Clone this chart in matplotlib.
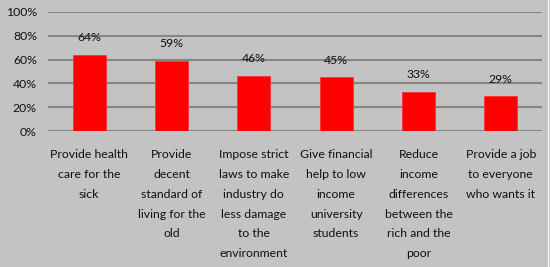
import matplotlib
matplotlib.use("Agg")
import matplotlib.pyplot as plt
from matplotlib.lines import Line2D

categories = [
    "Provide health\ncare for the\nsick",
    "Provide\ndecent\nstandard of\nliving for the\nold",
    "Impose strict\nlaws to make\nindustry do\nless damage\nto the\nenvironment",
    "Give financial\nhelp to low\nincome\nuniversity\nstudents",
    "Reduce\nincome\ndifferences\nbetween the\nrich and the\npoor",
    "Provide a job\nto everyone\nwho wants it",
]
values = [64, 59, 46, 45, 33, 29]
value_labels = ["64%", "59%", "46%", "45%", "33%", "29%"]
yticks = [0, 20, 40, 60, 80, 100]
ytick_labels = ["0%", "20%", "40%", "60%", "80%", "100%"]

plt.rcParams['font.family'] = ['Lato', 'DejaVu Sans']

bg = "#c3c3c3"
fig = plt.figure(figsize=(5.5, 2.67), dpi=100, facecolor=bg)
ax = fig.add_axes([48/550, 1-131/267, (542-48)/550, (131-12)/267])
ax.set_facecolor(bg)

x = list(range(len(categories)))
ax.bar(x, values, width=0.4, color="#ff0000", edgecolor="#ff3030", linewidth=0.6, zorder=3)
for xi, v, lab in zip(x, values, value_labels):
    ax.annotate(lab, (xi, v), xytext=(0, 12.5), textcoords="offset points",
                ha="center", va="center", fontsize=8.8, color="#111111", zorder=4)

ax.set_xlim(-0.5, len(categories) - 0.5)
ax.set_ylim(0, 100)
ax.set_yticks(yticks)
ax.set_yticklabels(ytick_labels, fontsize=8.8, color="#111111")
ax.yaxis.grid(True, color="#858585", linewidth=1.5, zorder=0)
ax.set_axisbelow(True)
ax.tick_params(axis="y", length=0, pad=8)
ax.tick_params(axis="x", length=0)
ax.set_xticks(x)
ax.set_xticklabels([])
for s in ax.spines.values():
    s.set_visible(False)

for xi, c in zip(x, categories):
    ax.text(xi, -0.155, c, transform=ax.get_xaxis_transform(), ha="center", va="top",
            fontsize=8.8, color="#111111", linespacing=1.97)

fig.add_artist(Line2D([547.5/550, 547.5/550], [0, 1], color="white", linewidth=0.8,
                      transform=fig.transFigure))

fig.savefig("out.png", dpi=100, facecolor=bg)
